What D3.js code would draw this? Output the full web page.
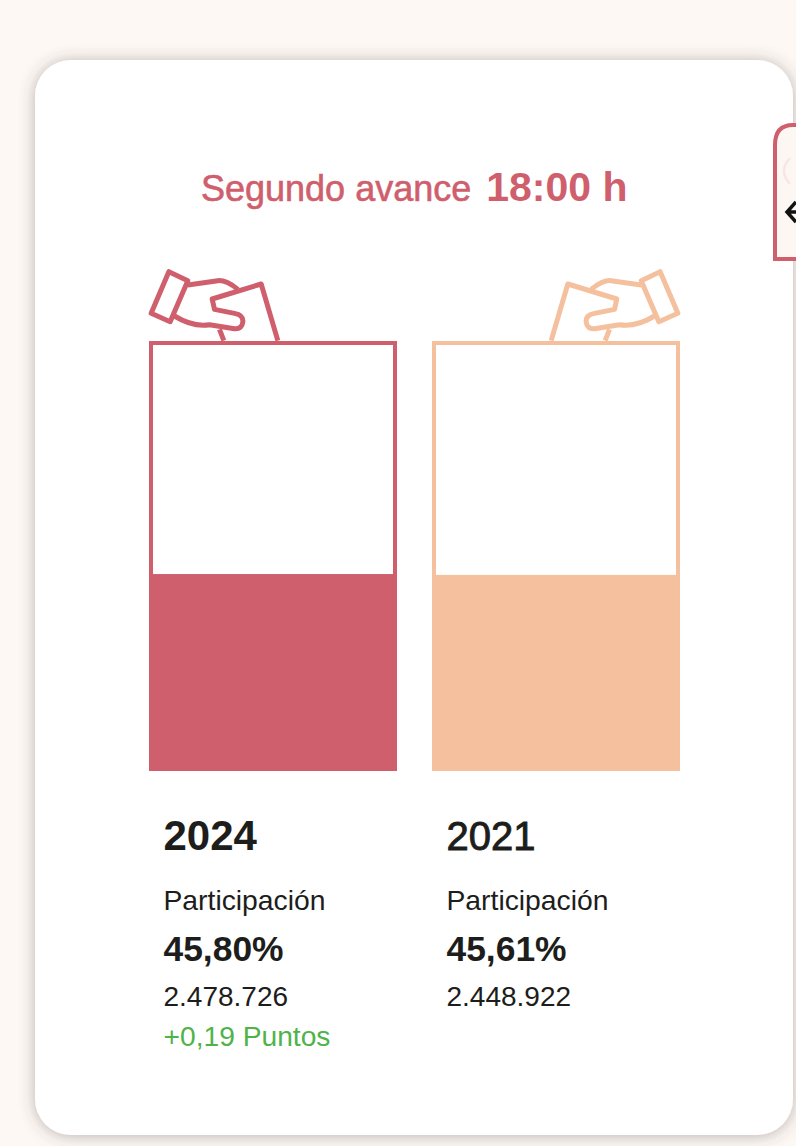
<!DOCTYPE html>
<html lang="es">
<head>
<meta charset="utf-8">
<title>Segundo avance 18:00 h</title>
<script src="https://cdn.jsdelivr.net/npm/d3@7"></script>
<style>
  html, body { margin: 0; padding: 0; background: #fef8f4; overflow: hidden; }
  svg { display: block; font-family: "Liberation Sans", Arial, sans-serif; }
</style>
</head>
<body>
<svg id="chart"></svg>
<script>
// dati
const years = ["2024", "2021"];
const turnout = [45.80, 45.61];
const turnoutLabels = ["45,80%", "45,61%"];
const votes = ["2.478.726", "2.448.922"];
const diffLabels = ["+0,19 Puntos", ""];
const colors = ["#cf5f6d", "#f4c09e"];

const width = 796;
const height = 1146;

const svg = d3.select("#chart").attr("width", width).attr("height", height);

// ombra della card
const filter = svg.append("defs").append("filter")
  .attr("id", "shadow")
  .attr("x", "-10%").attr("y", "-10%")
  .attr("width", "120%").attr("height", "120%");
filter.append("feDropShadow")
  .attr("dx", 0).attr("dy", 1)
  .attr("stdDeviation", 8)
  .attr("flood-color", "#4a4240")
  .attr("flood-opacity", 0.38);

svg.append("rect")
  .attr("x", 35).attr("y", 60)
  .attr("width", 758).attr("height", 1075)
  .attr("rx", 36)
  .attr("fill", "#fff")
  .attr("filter", "url(#shadow)");

// linguetta laterale tagliata a destra
const tab = svg.append("g");
tab.append("path")
  .attr("d", "M800,125 H793 Q775,125 775,145 V259 H800")
  .attr("fill", "#fdf7f3")
  .attr("stroke", "#cf5f6d")
  .attr("stroke-width", 4);
tab.append("path")
  .attr("d", "M790,158 Q778,171 790,184")
  .attr("fill", "none")
  .attr("stroke", "#f9e6e4")
  .attr("stroke-width", 2.5);
tab.append("path")
  .attr("d", "M796,202 L787,212 L796,222 M788,212 H800")
  .attr("fill", "none")
  .attr("stroke", "#111")
  .attr("stroke-width", 3.5);

// titolo
const title = svg.append("text")
  .attr("x", 201).attr("y", 200.5)
  .attr("fill", "#cf5f6d");
title.append("tspan")
  .attr("font-size", 36)
  .attr("stroke", "#cf5f6d")
  .attr("stroke-width", 0.6)
  .text("Segundo avance");
title.append("tspan").attr("dx", 15).attr("font-size", 41).attr("font-weight", "bold").text("18:00 h");

// scale
const x = d3.scaleBand().domain(years).range([149, 680]).paddingInner(35 / 283);
const y = d3.scaleLinear().domain([0, 100]).range([771, 341]);

// mano con scheda, coordinate dell'icona in unita da 1/3 px
const iconParts = [
  "M118,65 L175,92 L122,215 L65,190 Z",
  "M175,105 L265,92 Q290,90 325,118",
  "M445,272 L395,102 L248,147 L255,178 L315,190 Q342,195 340,215 Q338,238 315,236 L240,224 Q190,232 135,198",
  "M270,238 L283,272"
];

years.forEach((year, i) => {
  const left = x(year);
  const g = svg.append("g");

  // riempimento = percentuale di partecipazione
  g.append("rect")
    .attr("x", left)
    .attr("y", y(turnout[i]))
    .attr("width", x.bandwidth())
    .attr("height", y(0) - y(turnout[i]))
    .attr("fill", colors[i]);

  // urna vuota
  g.append("rect")
    .attr("x", left + 2)
    .attr("y", y(100) + 2)
    .attr("width", x.bandwidth() - 4)
    .attr("height", y(0) - y(100) - 4)
    .attr("fill", "none")
    .attr("stroke", colors[i])
    .attr("stroke-width", 4);

  // la seconda icona e specchiata
  const transform = i === 0
    ? `translate(${left - 19.5},${y(100) - 91}) scale(${1 / 3})`
    : `translate(${left + x.bandwidth() + 19.5},${y(100) - 91}) scale(${-1 / 3},${1 / 3})`;
  g.append("g")
    .attr("transform", transform)
    .selectAll("path")
    .data(iconParts)
    .enter()
    .append("path")
    .attr("d", (d) => d)
    .attr("fill", "none")
    .attr("stroke", colors[i])
    .attr("stroke-width", 15)
    .attr("stroke-linejoin", "round");

  // testi sotto la barra
  const textX = left + 14.5;
  const yearText = g.append("text")
    .attr("x", textX).attr("y", 850)
    .attr("font-size", i === 0 ? 42 : 40)
    .attr("fill", "#1d1d1b")
    .text(year);
  if (i === 0) yearText.attr("font-weight", "bold");
  else yearText.attr("stroke", "#1d1d1b").attr("stroke-width", 0.9);

  g.append("text")
    .attr("x", textX).attr("y", 910)
    .attr("font-size", 28.3)
    .attr("fill", "#1d1d1b")
    .text("Participación");

  g.append("text")
    .attr("x", textX).attr("y", 961)
    .attr("font-size", 35.4)
    .attr("font-weight", "bold")
    .attr("fill", "#1d1d1b")
    .text(turnoutLabels[i]);

  g.append("text")
    .attr("x", textX).attr("y", 1006)
    .attr("font-size", 28)
    .attr("fill", "#1d1d1b")
    .text(votes[i]);

  if (diffLabels[i]) {
    g.append("text")
      .attr("x", textX).attr("y", 1046)
      .attr("font-size", 28.2)
      .attr("fill", "#4fb34a")
      .text(diffLabels[i]);
  }
});
</script>
</body>
</html>
